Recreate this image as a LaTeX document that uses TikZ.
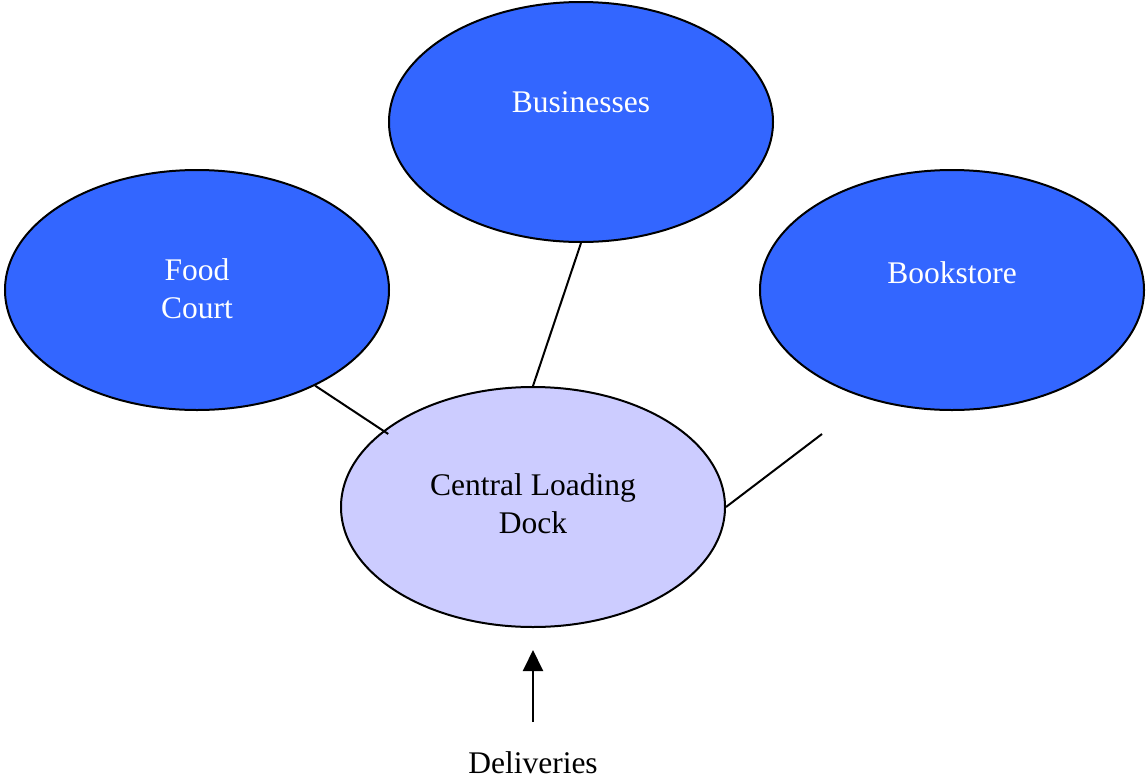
\documentclass[tikz,border=0pt]{standalone}
\usepackage{fontspec}
\setmainfont{Liberation Serif}
\usetikzlibrary{shapes.geometric,arrows.meta}
\definecolor{zoneblue}{HTML}{3366FF}
\definecolor{docklav}{HTML}{CCCCFF}
\begin{document}
\begin{tikzpicture}[x=1pt,y=-1pt,
  zone/.style={ellipse,draw=black,line width=2pt,minimum width=384pt,minimum height=240pt,inner sep=0pt},
  bluezone/.style={zone,fill=zoneblue},
  dockzone/.style={zone,fill=docklav},
  lbl/.style={anchor=base,align=center,inner sep=0pt,font=\fontsize{31.5}{37.5}\selectfont},
  wlbl/.style={lbl,text=white},
  link/.style={line width=2pt}]
\useasboundingbox (0,0) rectangle (1146,782);

% areas
\node[bluezone] (biz) at (581,122) {};
\node[bluezone] (food) at (197,290) {};
\node[bluezone] (book) at (952,290) {};
\node[dockzone] (dock) at (533,507) {};

% labels (multi-line labels are placed by their last baseline)
\node[wlbl] (bizt) at (581,112) {Businesses};
\node[wlbl] (foodt) at (197,318) {Food\\Court};
\node[wlbl] (bookt) at (952,283) {Bookstore};
\node[lbl] (dockt) at (533,533) {Central Loading\\Dock};
\node[lbl] (deliv) at (533,773) {Deliveries};

% connectors
\coordinate (free) at (822,434);
\coordinate (arrtail) at (533,722);
\coordinate (arrtip) at (533,650);
\draw[link] (biz.south) -- (dock.north);
\draw[link,shorten >=-6pt] (food.-39) -- (dock.153);
\draw[link] (dock.east) -- (free);
\draw[link,-{Triangle[width=20pt,length=21pt]}] (arrtail) -- (arrtip);
\end{tikzpicture}
\end{document}
